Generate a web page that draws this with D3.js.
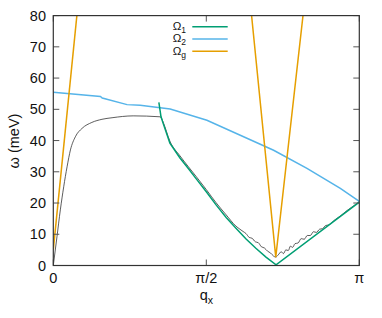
<!DOCTYPE html>
<html>
<head>
<meta charset="utf-8">
<script src="https://cdn.jsdelivr.net/npm/d3@7"></script>
<style>
  body { margin: 0; background: #fff; }
  svg { display: block; font-family: "Liberation Sans", Arial, sans-serif; }
</style>
</head>
<body>
<svg id="chart" width="382" height="318"></svg>
<script>
// q in units of pi, omega in meV
let omega1Q = [0.345, 0.352, 0.359, 0.381, 0.414, 0.44, 0.466, 0.50, 0.532, 0.565, 0.597, 0.63, 0.662, 0.695, 0.728, 1.0];
let omega1W = [52.2, 47.6, 45.5, 39.2, 34.4, 31.2, 27.9, 23.6, 19.4, 15.4, 11.9, 8.5, 5.5, 2.7, 0.2, 20.3];

let omega2Q = [0, 0.154, 0.160, 0.241, 0.284, 0.382, 0.502, 0.611, 0.72, 0.829, 0.938, 1.0];
let omega2W = [55.5, 54.1, 53.6, 51.5, 51.3, 50.1, 46.5, 41.7, 36.9, 31.1, 24.7, 20.5];

let omegaGLeftQ = [0, 0.077];
let omegaGLeftW = [5, 80];
let omegaGVQ = [0.648, 0.727, 0.816];
let omegaGVW = [80, 2.7, 80];

let simQ = [0, 0.012, 0.023, 0.034, 0.045, 0.056, 0.072, 0.094, 0.126, 0.159, 0.192, 0.261, 0.349,
  0.352, 0.359, 0.381, 0.414, 0.44, 0.466, 0.50, 0.532, 0.565, 0.597,
  0.61, 0.62, 0.63, 0.64, 0.65, 0.66, 0.67, 0.68, 0.69, 0.70, 0.71, 0.72, 0.727,
  0.735, 0.745, 0.752, 0.76, 0.768, 0.775, 0.782, 0.79, 0.80, 0.81, 0.82, 0.83, 0.84,
  0.85, 0.86, 0.87, 0.88, 0.89, 0.90, 0.92, 0.94, 0.96, 0.98, 1.0];
let simW = [0, 9.2, 17.8, 25.2, 31.6, 37.0, 41.2, 43.9, 45.8, 46.8, 47.3, 47.9, 47.6,
  47.4, 45.9, 39.8, 35.1, 31.8, 28.6, 24.3, 20.1, 16.2, 12.6,
  11.6, 10.9, 10.2, 9.0, 8.7, 7.6, 7.3, 6.0, 5.6, 4.6, 4.0, 3.0, 2.7,
  3.4, 4.4, 3.8, 5.0, 4.8, 6.2, 5.8, 7.0, 7.2, 8.6, 8.4, 9.6, 9.6,
  10.8, 10.6, 11.6, 11.8, 12.8, 13.0, 14.6, 16.0, 17.6, 19.0, 20.4];

let yTicks = [0, 10, 20, 30, 40, 50, 60, 70, 80];
let xTicks = [0, 0.5, 1];
let xTickLabels = ["0", "π/2", "π"];
let legendNames = ["1", "2", "g"];
let colors = ["#009e73", "#56b4e9", "#e69f00"];

const svg = d3.select("#chart");
const padL = 53.3, padR = 359.3, padT = 15.6, padB = 265.5;

let x = d3.scaleLinear().domain([0, 1]).range([padL, padR]);
let y = d3.scaleLinear().domain([0, 80]).range([padB, padT]);

svg.append("defs").append("clipPath").attr("id", "clip")
  .append("rect").attr("x", padL).attr("y", padT)
  .attr("width", padR - padL).attr("height", padB - padT);

let line = d3.line().x(d => x(d[0])).y(d => y(d[1]));
let smooth = d3.line().x(d => x(d[0])).y(d => y(d[1])).curve(d3.curveMonotoneX);
let zip = (a, b) => a.map((v, i) => [v, b[i]]);

let plot = svg.append("g").attr("clip-path", "url(#clip)");

// simulation (thin black)
plot.append("path").datum(zip(simQ, simW)).attr("d", smooth)
  .attr("fill", "none").attr("stroke", "#333").attr("stroke-width", 0.8);

plot.append("path").datum(zip(omega2Q, omega2W)).attr("d", line)
  .attr("fill", "none").attr("stroke", colors[1]).attr("stroke-width", 1.5);

plot.append("path").datum(zip(omegaGLeftQ, omegaGLeftW)).attr("d", line)
  .attr("fill", "none").attr("stroke", colors[2]).attr("stroke-width", 1.5);
plot.append("path").datum(zip(omegaGVQ, omegaGVW)).attr("d", line)
  .attr("fill", "none").attr("stroke", colors[2]).attr("stroke-width", 1.5);

plot.append("path").datum(zip(omega1Q, omega1W)).attr("d", line)
  .attr("fill", "none").attr("stroke", colors[0]).attr("stroke-width", 1.5);

// ticks, inward on all sides
let tickLen = 6;
let ticks = svg.append("g").attr("stroke", "#555").attr("stroke-width", 1);
yTicks.forEach(v => {
  ticks.append("line").attr("x1", padL).attr("x2", padL + tickLen).attr("y1", y(v)).attr("y2", y(v));
  ticks.append("line").attr("x1", padR).attr("x2", padR - tickLen).attr("y1", y(v)).attr("y2", y(v));
});
xTicks.forEach(v => {
  ticks.append("line").attr("x1", x(v)).attr("x2", x(v)).attr("y1", padB).attr("y2", padB - tickLen);
  ticks.append("line").attr("x1", x(v)).attr("x2", x(v)).attr("y1", padT).attr("y2", padT + tickLen);
});

svg.append("rect").attr("x", padL).attr("y", padT)
  .attr("width", padR - padL).attr("height", padB - padT)
  .attr("fill", "none").attr("stroke", "#333").attr("stroke-width", 1.2);

// tick labels
svg.append("g").selectAll("text").data(yTicks).join("text")
  .attr("x", 46).attr("y", d => y(d) + 5)
  .attr("text-anchor", "end").attr("font-size", 14.5).attr("fill", "#111")
  .text(d => d);

svg.append("g").selectAll("text").data(xTicks).join("text")
  .attr("x", d => x(d)).attr("y", 283)
  .attr("text-anchor", "middle").attr("font-size", 14.5).attr("fill", "#111")
  .text((d, i) => xTickLabels[i]);

// axis titles
let xl = svg.append("text").attr("x", x(0.5)).attr("y", 300)
  .attr("text-anchor", "middle").attr("font-size", 14.5).attr("fill", "#111");
xl.append("tspan").text("q");
xl.append("tspan").attr("font-size", 10.5).attr("dy", 4).text("x");

svg.append("text")
  .attr("transform", "translate(19,141) rotate(-90)")
  .attr("text-anchor", "middle").attr("font-size", 14.5).attr("fill", "#111")
  .text("ω (meV)");

// legend
let legend = svg.append("g");
legendNames.forEach((n, i) => {
  let ly = 26.7 + i * 12.3;
  let t = legend.append("text").attr("x", 186).attr("y", ly + 3.3)
    .attr("text-anchor", "end").attr("font-size", 11.5).attr("fill", "#111");
  t.append("tspan").text("Ω");
  t.append("tspan").attr("font-size", 8.5).attr("dy", 3).text(n);
  legend.append("line").attr("x1", 192.3).attr("x2", 227.7).attr("y1", ly).attr("y2", ly)
    .attr("stroke", colors[i]).attr("stroke-width", 1.5);
});
</script>
</body>
</html>
